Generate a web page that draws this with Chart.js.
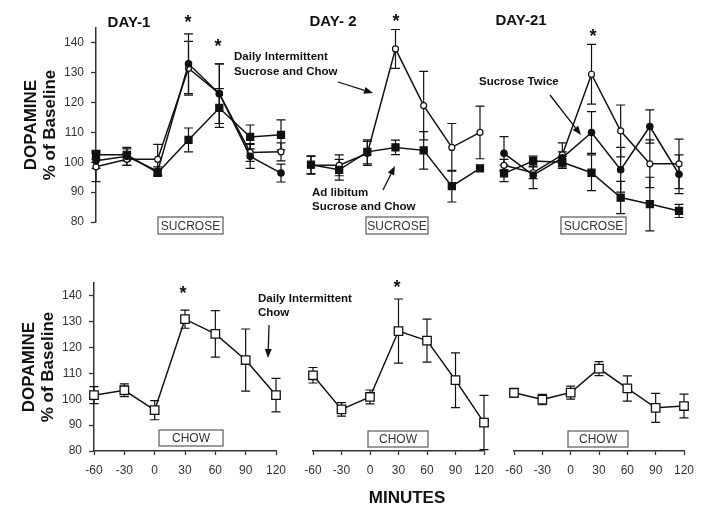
<!DOCTYPE html>
<html>
<head>
<meta charset="utf-8">
<script src="https://cdn.jsdelivr.net/npm/chart.js@4.4.0/dist/chart.umd.min.js"></script>
<style>
  body { margin: 0; background: #fff; }
  #wrap { position: relative; width: 716px; height: 518px; }
  canvas { position: absolute; left: 0; top: 0; }
</style>
</head>
<body>
<div id="wrap">
  <canvas id="t1" width="716" height="518"></canvas>
  <canvas id="t2" width="716" height="518"></canvas>
  <canvas id="t3" width="716" height="518"></canvas>
  <canvas id="b1" width="716" height="518"></canvas>
  <canvas id="b2" width="716" height="518"></canvas>
  <canvas id="b3" width="716" height="518"></canvas>
</div>
<script>
// minutes relative to access
const minutes = [-60, -30, 0, 30, 60, 90, 120];
const yTicksMin = 80, yTicksMax = 140;

// Day 1, sucrose
const d1Intermittent    = [98.5, 101, 101, 131.5, 123, 103.3, 103.5];
const d1IntermittentErr = [5, 2, 5, 9, 10, 3, 3];
const d1Twice           = [100.5, 102, 97, 133, 123, 102, 96.4];
const d1TwiceErr        = [2.5, 3, 1.5, 10, 10, 4, 3];
const d1AdLib           = [102.5, 102.5, 96.5, 107.5, 118.2, 108.5, 109.2];
const d1AdLibErr        = [1.5, 2, 1, 4, 6.5, 4, 5];

// Day 2, sucrose
const d2Intermittent    = [99, 99, 103, 138, 119, 105, 110];
const d2IntermittentErr = [3, 3.5, 4, 6.5, 11.5, 8, 8.8];
const d2AdLib           = [99.2, 97.5, 103.5, 105, 104, 92, 98];
const d2AdLibErr        = [3, 3.5, 4, 2.4, 6.3, 5.3, 0];

// Day 21, sucrose
const d21Intermittent    = [99, 96.5, 102.5, 129.5, 110.5, 99.5, 99.5];
const d21IntermittentErr = [2, 2, 4, 10, 8.7, 8, 8.3];
const d21Twice           = [103, 95.7, 101.5, 110, 97.5, 112, 96];
const d21TwiceErr        = [5.6, 4.5, 2, 7, 7.5, 5.6, 6.5];
const d21AdLib           = [96.3, 100.4, 100, 96.5, 88.2, 86, 83.7];
const d21AdLibErr        = [2.8, 1.7, 2, 6, 5.4, 9, 2.2];

// chow, days 1 / 2 / 21
const chowDay1     = [101.6, 103.5, 95.8, 131, 125.3, 115.2, 101.6];
const chowDay1Err  = [3.3, 2.5, 3.7, 3.5, 9, 12, 6.5];
const chowDay2     = [109.3, 96.1, 100.9, 126.4, 122.7, 107.4, 91];
const chowDay2Err  = [3, 2.6, 2.7, 12.4, 8.3, 10.6, 10.5];
const chowDay21    = [102.5, 99.9, 102.6, 111.9, 104.2, 96.7, 97.4];
const chowDay21Err = [1.7, 2, 2.5, 2.7, 4.9, 5.6, 4.6];

const W = 716, H = 518;
const INK = '#111';
const FONT = '"Liberation Sans", Arial, Helvetica, sans-serif';

const errorBars = {
  id: 'errorBars',
  beforeDatasetsDraw(chart) {
    const { ctx, scales: { x, y } } = chart;
    ctx.save();
    ctx.strokeStyle = INK;
    ctx.lineWidth = 1.2;
    chart.data.datasets.forEach(ds => {
      if (!ds.errors) return;
      ds.data.forEach((p, i) => {
        const e = ds.errors[i];
        if (!e) return;
        const px = x.getPixelForValue(p.x);
        const top = y.getPixelForValue(p.y + e);
        const bot = y.getPixelForValue(p.y - e);
        ctx.beginPath();
        ctx.moveTo(px, top); ctx.lineTo(px, bot);
        ctx.moveTo(px - 4.5, top); ctx.lineTo(px + 4.5, top);
        ctx.moveTo(px - 4.5, bot); ctx.lineTo(px + 4.5, bot);
        ctx.stroke();
      });
    });
    ctx.restore();
  }
};

function series(values, errs, style) {
  const base = {
    data: minutes.map((m, i) => ({ x: m, y: values[i] })),
    errors: errs,
    borderColor: INK,
    borderWidth: 1.5,
    tension: 0,
    clip: false,
    pointBorderColor: INK,
    pointBorderWidth: 1.2
  };
  if (style === 'open') Object.assign(base, { pointStyle: 'circle', pointRadius: 3, pointBackgroundColor: '#fff' });
  if (style === 'dot') Object.assign(base, { pointStyle: 'circle', pointRadius: 3.2, pointBackgroundColor: INK });
  if (style === 'square') Object.assign(base, { pointStyle: 'rect', pointRadius: 5, pointBackgroundColor: INK });
  if (style === 'openSquare') Object.assign(base, { pointStyle: 'rect', pointRadius: 6, pointBackgroundColor: '#fff', pointBorderWidth: 1.3 });
  return base;
}

function makePanel(id, box, datasets, showX, showY, extra) {
  const yW = 74, xH = 28;
  const axisGrid = { drawOnChartArea: false, drawTicks: true, tickLength: 5, tickColor: '#333', tickWidth: 1.3 };
  new Chart(document.getElementById(id), {
    type: 'line',
    data: { datasets },
    options: {
      responsive: false,
      animation: false,
      events: [],
      devicePixelRatio: 1,
      layout: {
        padding: {
          left: box.left - (showY ? yW : 0),
          right: W - box.right,
          top: box.top,
          bottom: H - box.bottom - (showX ? xH : 0)
        }
      },
      plugins: { legend: { display: false }, tooltip: { enabled: false } },
      scales: {
        x: {
          type: 'linear', min: -60, max: 120, display: showX,
          grid: Object.assign({}, axisGrid, { tickLength: 4 }),
          border: { display: true, color: '#333', width: 1.5 },
          ticks: { stepSize: 30, padding: 8, autoSkip: false, color: '#333', font: { family: FONT, size: 12 }, maxRotation: 0 },
          afterFit: showX ? (s => { s.height = xH; }) : undefined
        },
        y: {
          min: yTicksMin, max: 145, display: showY,
          grid: axisGrid,
          border: { display: true, color: '#333', width: 1.5 },
          ticks: { stepSize: 10, includeBounds: false, padding: 7, color: '#333', font: { family: FONT, size: 12 } },
          title: {
            display: true,
            text: ['DOPAMINE', '% of Baseline'],
            color: INK,
            padding: { top: 0, bottom: 0 },
            font: { family: FONT, size: 17, weight: 'bold', lineHeight: 1.1 }
          },
          afterFit: showY ? (s => { s.width = yW; }) : undefined
        }
      }
    },
    plugins: extra ? [errorBars, extra] : [errorBars]
  });
}

// page-level labels, boxes and arrows
const labels = [
  { t: 'DAY-1', x: 129, y: 23, size: 15, bold: true, align: 'center' },
  { t: 'DAY- 2', x: 333, y: 22, size: 15, bold: true, align: 'center' },
  { t: 'DAY-21', x: 521, y: 21, size: 15, bold: true, align: 'center' },
  { t: 'MINUTES', x: 407, y: 498, size: 17, bold: true, align: 'center' },
  { t: 'Daily Intermittent', x: 234, y: 57, size: 11.5, bold: true, align: 'left' },
  { t: 'Sucrose and Chow', x: 234, y: 72, size: 11.5, bold: true, align: 'left' },
  { t: 'Ad libitum', x: 312, y: 193, size: 11.5, bold: true, align: 'left' },
  { t: 'Sucrose and Chow', x: 312, y: 207, size: 11.5, bold: true, align: 'left' },
  { t: 'Sucrose Twice', x: 479, y: 82, size: 11.5, bold: true, align: 'left' },
  { t: 'Daily Intermittent', x: 258, y: 299, size: 11.5, bold: true, align: 'left' },
  { t: 'Chow', x: 258, y: 313, size: 11.5, bold: true, align: 'left' }
];
const stars = [[188, 18], [218, 42], [396, 17], [593, 32], [183, 289], [397, 283]];
const boxes = [
  { t: 'SUCROSE', x: 158, y: 217, w: 65, h: 17 },
  { t: 'SUCROSE', x: 366, y: 217, w: 62, h: 17 },
  { t: 'SUCROSE', x: 561, y: 217, w: 65, h: 17 },
  { t: 'CHOW', x: 159, y: 430, w: 64, h: 16 },
  { t: 'CHOW', x: 368, y: 431, w: 60, h: 16 },
  { t: 'CHOW', x: 568, y: 431, w: 60, h: 16 }
];
const arrows = [[338, 82, 373, 93], [383, 190, 395, 166], [550, 95, 581, 135], [269, 325, 268, 358]];

const notes = {
  id: 'notes',
  afterDraw(chart) {
    const ctx = chart.ctx;
    ctx.save();
    ctx.fillStyle = INK;
    ctx.textBaseline = 'middle';
    labels.forEach(l => {
      ctx.font = (l.bold ? 'bold ' : '') + l.size + 'px ' + FONT;
      ctx.textAlign = l.align;
      ctx.fillText(l.t, l.x, l.y);
    });
    ctx.font = 'bold 18px ' + FONT;
    ctx.textAlign = 'center';
    ctx.textBaseline = 'alphabetic';
    stars.forEach(([x, y]) => ctx.fillText('*', x, y + 10));
    ctx.textBaseline = 'middle';
    ctx.font = '12px ' + FONT;
    boxes.forEach(b => {
      ctx.fillStyle = '#fff';
      ctx.fillRect(b.x, b.y, b.w, b.h);
      ctx.strokeStyle = '#666';
      ctx.lineWidth = 1.3;
      ctx.strokeRect(b.x, b.y, b.w, b.h);
      ctx.fillStyle = '#333';
      ctx.fillText(b.t, b.x + b.w / 2, b.y + b.h / 2 + 1);
    });
    ctx.strokeStyle = INK;
    ctx.fillStyle = INK;
    ctx.lineWidth = 1.3;
    arrows.forEach(([x1, y1, x2, y2]) => {
      const a = Math.atan2(y2 - y1, x2 - x1), L = 9, Wd = 3.5;
      const bx = x2 - L * Math.cos(a), by = y2 - L * Math.sin(a);
      ctx.beginPath(); ctx.moveTo(x1, y1); ctx.lineTo(bx, by); ctx.stroke();
      ctx.beginPath();
      ctx.moveTo(x2, y2);
      ctx.lineTo(bx + Wd * Math.sin(a), by - Wd * Math.cos(a));
      ctx.lineTo(bx - Wd * Math.sin(a), by + Wd * Math.cos(a));
      ctx.closePath(); ctx.fill();
    });
    ctx.restore();
  }
};

const topBox = (l, r) => ({ left: l, right: r, top: 28, bottom: 222 });
const botBox = (l, r) => ({ left: l, right: r, top: 283, bottom: 451 });

makePanel('t1', topBox(96, 281), [
  series(d1AdLib, d1AdLibErr, 'square'),
  series(d1Twice, d1TwiceErr, 'dot'),
  series(d1Intermittent, d1IntermittentErr, 'open')
], false, true);

makePanel('t2', topBox(311, 480), [
  series(d2AdLib, d2AdLibErr, 'square'),
  series(d2Intermittent, d2IntermittentErr, 'open')
], false, false);

makePanel('t3', topBox(504, 679), [
  series(d21AdLib, d21AdLibErr, 'square'),
  series(d21Twice, d21TwiceErr, 'dot'),
  series(d21Intermittent, d21IntermittentErr, 'open')
], false, false);

makePanel('b1', botBox(94, 276), [series(chowDay1, chowDay1Err, 'openSquare')], true, true);
makePanel('b2', botBox(313, 484), [series(chowDay2, chowDay2Err, 'openSquare')], true, false);
makePanel('b3', botBox(514, 684), [series(chowDay21, chowDay21Err, 'openSquare')], true, false, notes);
</script>
</body>
</html>
